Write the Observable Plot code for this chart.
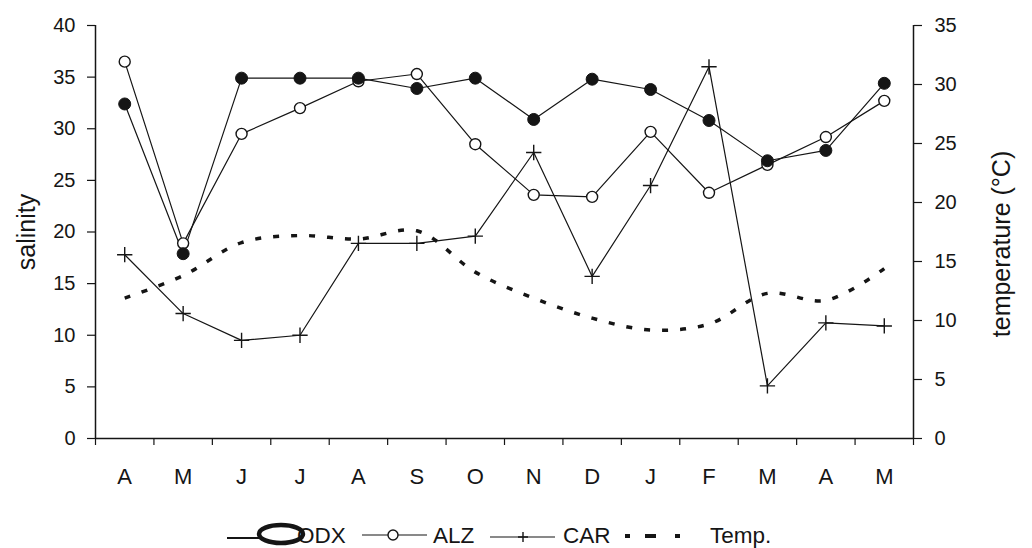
<!DOCTYPE html>
<html>
<head>
<meta charset="utf-8">
<script src="https://cdn.jsdelivr.net/npm/d3@7"></script>
<script src="https://cdn.jsdelivr.net/npm/@observablehq/plot@0.6"></script>
<style>
  html, body { margin: 0; padding: 0; background: white; }
  #chart svg, #legend svg { display: block; }
</style>
</head>
<body>
<div id="chart"></div>
<div id="legend"></div>
<script>
// ---- data ----
const months = ["A","M","J","J","A","S","O","N","D","J","F","M","A","M"];
const odx  = [32.4, 17.9, 34.9, 34.9, 34.9, 33.9, 34.9, 30.9, 34.8, 33.8, 30.8, 26.9, 27.9, 34.4];
const alz  = [36.5, 18.9, 29.5, 32.0, 34.6, 35.3, 28.5, 23.6, 23.4, 29.7, 23.8, 26.5, 29.2, 32.7];
const car  = [17.8, 12.1, 9.5, 10.0, 18.9, 18.9, 19.6, 27.7, 15.7, 24.5, 36.0, 5.1, 11.2, 10.9];
const temp = [11.9, 13.8, 16.6, 17.2, 16.9, 17.6, 14.1, 11.9, 10.2, 9.2, 9.7, 12.3, 11.7, 14.4];
const salinityTicks = [0, 5, 10, 15, 20, 25, 30, 35, 40];
const tempTicks = [0, 5, 10, 15, 20, 25, 30, 35];
const salMax = 40, tempMax = 35;

const rows = months.map((m, i) => ({i, m, odx: odx[i], alz: alz[i], car: car[i], temp: temp[i]}));
const toSal = t => t * salMax / tempMax;
const bounds = months.map((m, i) => i - 0.5).concat([months.length - 0.5]);
const ink = "#151515";

const chart = Plot.plot({
  width: 1032,
  height: 500,
  marginLeft: 95,
  marginRight: 119,
  marginTop: 25,
  marginBottom: 62,
  x: {domain: [-0.5, months.length - 0.5]},
  y: {domain: [0, salMax]},
  style: {fontFamily: "'Liberation Sans', Arial, sans-serif", fontSize: "20px", color: ink, background: "white"},
  marks: [
    Plot.axisY(salinityTicks, {anchor: "left", tickSize: 8, tickPadding: 12, fontSize: 20, label: null, strokeWidth: 1.2}),
    Plot.axisY(tempTicks.map(toSal), {anchor: "right", tickSize: 8, tickPadding: 13, fontSize: 20, label: null, strokeWidth: 1.2,
      tickFormat: d => String(Math.round(d * tempMax / salMax))}),
    Plot.axisX(bounds, {anchor: "bottom", tickSize: 7, tickFormat: () => "", label: null, strokeWidth: 1.2}),
    Plot.axisX(rows.map(d => d.i), {anchor: "bottom", tickSize: 0, tickPadding: 30, fontSize: 22, label: null,
      tickFormat: i => months[i]}),
    Plot.ruleX([-0.5, months.length - 0.5], {y1: 0, y2: salMax, stroke: ink, strokeWidth: 1.5}),
    Plot.ruleY([0], {stroke: ink, strokeWidth: 1.5}),
    Plot.text(["salinity"], {frameAnchor: "left", textAnchor: "middle", dx: -69, rotate: -90, fontSize: 25, fill: ink}),
    Plot.text(["temperature (°C)"], {frameAnchor: "right", textAnchor: "middle", dx: 88, dy: 12, rotate: -90, fontSize: 25, fill: ink}),
    Plot.line(rows, {x: "i", y: d => toSal(d.temp), curve: "catmull-rom", stroke: ink, strokeWidth: 3.5,
      strokeDasharray: "6,12", strokeLinecap: "butt"}),
    Plot.line(rows, {x: "i", y: "car", stroke: ink, strokeWidth: 1.2}),
    Plot.line(rows, {x: "i", y: "alz", stroke: ink, strokeWidth: 1.2}),
    Plot.line(rows, {x: "i", y: "odx", stroke: ink, strokeWidth: 1.2}),
    Plot.dot(rows, {x: "i", y: "car", symbol: "plus", r: 5, stroke: ink, strokeWidth: 1.4}),
    Plot.dot(rows, {x: "i", y: "alz", r: 5.5, fill: "white", stroke: ink, strokeWidth: 1.4}),
    Plot.dot(rows, {x: "i", y: "odx", r: 6, fill: ink, stroke: ink, strokeWidth: 1})
  ]
});
document.getElementById("chart").appendChild(chart);

// ---- legend ----
const lg = d3.select("#legend").append("svg").attr("width", 1032).attr("height", 48)
  .style("font-family", "'Liberation Sans', Arial, sans-serif").style("font-size", "22.5px");
const base = 43, mid = 35;
// ODX
lg.append("line").attr("x1", 227).attr("x2", 262).attr("y1", mid + 3).attr("y2", mid + 3).attr("stroke", ink).attr("stroke-width", 2.2);
lg.append("ellipse").attr("cx", 281).attr("cy", mid - 1).attr("rx", 22).attr("ry", 9)
  .attr("fill", "none").attr("stroke", ink).attr("stroke-width", 4.5);
lg.append("text").attr("x", 297).attr("y", base).attr("fill", ink).text("ODX");
// ALZ
lg.append("line").attr("x1", 362).attr("x2", 427).attr("y1", mid).attr("y2", mid).attr("stroke", ink).attr("stroke-width", 1.2);
lg.append("circle").attr("cx", 393).attr("cy", mid).attr("r", 5).attr("fill", "white").attr("stroke", ink).attr("stroke-width", 1.4);
lg.append("text").attr("x", 433).attr("y", base).attr("fill", ink).text("ALZ");
// CAR
lg.append("line").attr("x1", 490).attr("x2", 555).attr("y1", mid + 2).attr("y2", mid + 2).attr("stroke", ink).attr("stroke-width", 1.2);
lg.append("path").attr("d", `M518,${mid + 2}H528M523,${mid - 3}V${mid + 7}`).attr("stroke", ink).attr("stroke-width", 1.4);
lg.append("text").attr("x", 563).attr("y", base).attr("fill", ink).text("CAR");
// Temp.
[[625, 5], [645, 11], [675, 5]].forEach(([x, w]) =>
  lg.append("rect").attr("x", x).attr("y", mid - 1).attr("width", w).attr("height", 4).attr("fill", ink));
lg.append("text").attr("x", 710).attr("y", base).attr("fill", ink).text("Temp.");
</script>
</body>
</html>
